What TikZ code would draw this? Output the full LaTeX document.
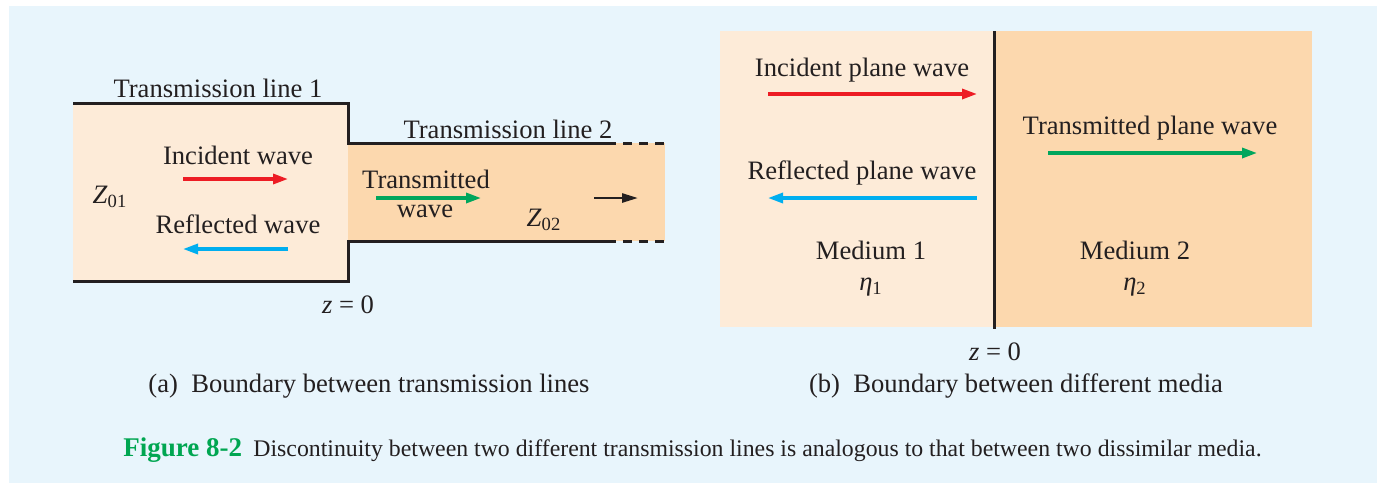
\documentclass[tikz,border=0pt]{standalone}
\usepackage{fontspec}
\setmainfont{Liberation Serif}
\usetikzlibrary{arrows.meta}

\definecolor{panelblue}{HTML}{E8F5FC}
\definecolor{peachlight}{HTML}{FDEBD8}
\definecolor{peachdark}{HTML}{FCD8AE}
\definecolor{wavered}{HTML}{ED1C24}
\definecolor{waveblue}{HTML}{00AEEF}
\definecolor{wavegreen}{HTML}{00A65D}
\definecolor{linedark}{HTML}{231F20}
\definecolor{figgreen}{HTML}{00A651}

\tikzset{
  wall/.style={draw=linedark, line width=1.5pt},
  wavearrow/.style={line width=1.6pt, -{Triangle[length=7.5pt,width=5pt]}},
  lbl/.style={inner sep=0pt, text=linedark, font=\fontsize{13.3}{15}\selectfont},
}

\begin{document}
\begin{tikzpicture}[x=0.5pt, y=-0.5pt]
  % whole picture and pale panel
  \useasboundingbox (0,0) rectangle (1384,483);
  \fill[white] (0,0) rectangle (1384,483);
  \fill[panelblue] (9,6) rectangle (1377,483);

  % (a) two transmission lines
  \coordinate (L1tl) at (73,103);   % line 1, top left
  \coordinate (L1br) at (348,281);  % line 1, bottom right
  \coordinate (L2tl) at (348,143);  % line 2, top left
  \coordinate (L2br) at (665,241);  % line 2, bottom right
  \fill[peachlight] (L1tl) rectangle (L1br);
  \fill[peachdark] (L2tl) rectangle (L2br);
  \draw[wall] (L1tl) -- (348,103) -- (L2tl) -- (616,143);
  \draw[wall] (73,281) -- (L1br) -- (348,241) -- (616,241);
  \draw[wall, dash pattern=on 4.5pt off 3.5pt] (623,143) -- (665,143);
  \draw[wall, dash pattern=on 4.5pt off 3.5pt] (623,241) -- (665,241);

  \node[lbl] (tl1) at (218,88) {Transmission line 1};
  \node[lbl] (tl2) at (508,129) {Transmission line 2};
  \node[lbl] (inc) at (238,155) {Incident wave};
  \node[lbl] (refl) at (238,224) {Reflected wave};
  \node[lbl] (Z1) at (110,197) {\textit{Z}\textsubscript{01}};
  \node[lbl] (trans) at (426,179) {Transmitted};
  \node[lbl] (transw) at (425,211) {wave};
  \node[lbl] (Z2) at (544,220) {\textit{Z}\textsubscript{02}};
  \node[lbl] (za) at (348,305) {\textit{z} = 0};

  % wave arrows, line (a)
  \coordinate (incA) at (183,179);  \coordinate (incB) at (288,179);
  \coordinate (refA) at (288,249);  \coordinate (refB) at (183,249);
  \coordinate (trA) at (376,198);   \coordinate (trB) at (481,198);
  \coordinate (goA) at (594,198);   \coordinate (goB) at (638,198);
  \draw[wavearrow, wavered] (incA) -- (incB);
  \draw[wavearrow, waveblue] (refA) -- (refB);
  \draw[wavearrow, wavegreen] (trA) -- (trB);
  \draw[linedark, line width=1.3pt, -{Triangle[length=8pt,width=4.5pt]}] (goA) -- (goB);

  % (b) two media
  \fill[peachlight] (720,31) rectangle (994,327);
  \fill[peachdark] (994,31) rectangle (1312,327);
  \coordinate (bndTop) at (994,31);
  \coordinate (bndBot) at (994,329);
  \draw[wall] (bndTop) -- (bndBot);

  \node[lbl] (pinc) at (862,70) {Incident plane wave};
  \node[lbl] (prefl) at (862,173) {Reflected plane wave};
  \node[lbl] (ptrans) at (1150,128) {Transmitted plane wave};
  \node[lbl] (med1) at (871,250) {Medium 1};
  \node[lbl] (eta1) at (871,287) {\textit{η}\textsubscript{1}};
  \node[lbl] (med2) at (1135,250) {Medium 2};
  \node[lbl] (eta2) at (1135,287) {\textit{η}\textsubscript{2}};
  \node[lbl] (zb) at (995,352) {\textit{z} = 0};

  \coordinate (pincA) at (768,94);    \coordinate (pincB) at (977,94);
  \coordinate (prefA) at (977,198);   \coordinate (prefB) at (768,198);
  \coordinate (ptrA) at (1048,153);   \coordinate (ptrB) at (1257,153);
  \draw[wavearrow, wavered] (pincA) -- (pincB);
  \draw[wavearrow, waveblue] (prefA) -- (prefB);
  \draw[wavearrow, wavegreen] (ptrA) -- (ptrB);

  % sub-captions and caption
  \node[lbl] (capa) at (369,386) {(a)\ \ Boundary between transmission lines};
  \node[lbl] (capb) at (1016,386) {(b)\ \ Boundary between different media};
  \node[inner sep=0pt, anchor=base west, text=figgreen, font=\fontsize{13.5}{16}\selectfont\bfseries]
    (fig) at (123,456) {Figure 8-2};
  \node[inner sep=0pt, anchor=base west, text=linedark, font=\fontsize{11.9}{14}\selectfont]
    (figtxt) at (253,456) {Discontinuity between two different transmission lines is analogous to that between two dissimilar media.};
\end{tikzpicture}
\end{document}
